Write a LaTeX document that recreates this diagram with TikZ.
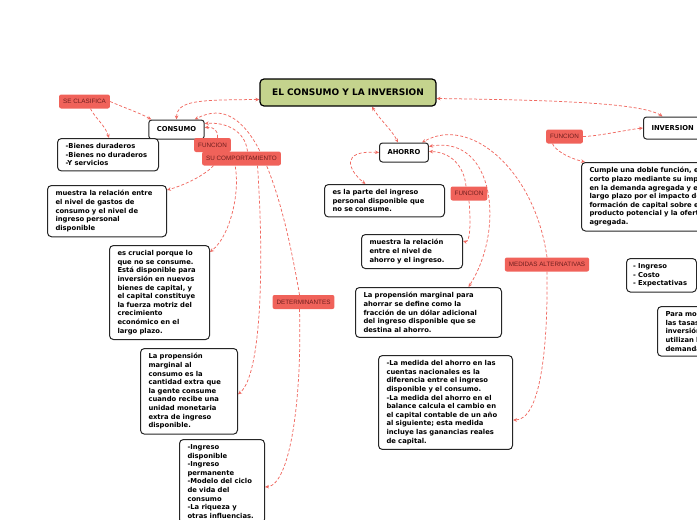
\documentclass[tikz,border=0pt]{standalone}
\usepackage{fontspec}
\setmainfont{DejaVu Sans}
\newfontfamily\tagfont{Liberation Sans}
\usetikzlibrary{backgrounds,arrows.meta}

\definecolor{titlegreen}{HTML}{C4D38D}
\definecolor{tagred}{HTML}{F0625A}
\definecolor{tagtext}{HTML}{6E1E1E}
\definecolor{linkred}{HTML}{F06A62}

\tikzset{
  topic/.style={draw=black, line width=1.2pt, rounded corners=4pt, fill=titlegreen,
    minimum width=176pt, minimum height=27pt, font=\bfseries\fontsize{9}{11}\selectfont},
  concept/.style={draw=black!85, line width=1pt, rounded corners=3pt, fill=white,
    minimum height=19pt, inner xsep=8pt, font=\bfseries\fontsize{6.8}{8.6}\selectfont},
  box/.style={draw=black!85, line width=1pt, rounded corners=4pt, fill=white, anchor=north west,
    align=left, inner xsep=8pt, inner ysep=5pt, font=\bfseries\fontsize{6.8}{8.6}\selectfont},
  tag/.style={fill=tagred, rounded corners=2pt, text=tagtext, minimum height=14pt,
    inner xsep=4pt, inner ysep=2pt, font=\tagfont\fontsize{6.3}{7}\selectfont},
  link/.style={draw=linkred, line width=0.75pt, dash pattern=on 3pt off 2pt},
}

\begin{document}
\begin{tikzpicture}[x=1pt, y=-1pt, >={Stealth[length=4pt,width=3.6pt]}]
    \useasboundingbox (0,0) rectangle (697,520);

    % main topics
    \node[topic] (titulo) at (348,92.5) {EL CONSUMO Y LA INVERSION};
    \node[concept] (consumo) at (176.5,129.5) {CONSUMO};
    \node[concept] (ahorro) at (404,152.5) {AHORRO};
    \node[concept, anchor=west, minimum height=22pt] (inversion) at (643,128) {INVERSION};

    % labels
    \node[tag] (clasifica) at (84.5,101.5) {SE CLASIFICA};
    \node[tag] (funcion1) at (212.5,145) {FUNCION};
    \node[tag] (comport) at (241.5,158.5) {SU COMPORTAMIENTO};
    \node[tag] (determ) at (303.5,302) {DETERMINANTES};
    \node[tag] (funcion2) at (469,193.5) {FUNCION};
    \node[tag] (medidas) at (547,264.5) {MEDIDAS ALTERNATIVAS};
    \node[tag] (funcion3) at (564.5,136.5) {FUNCION};

    % consumo
    \node[box, text width=85pt] (bienes) at (57,138) {-Bienes duraderos\\-Bienes no duraderos\\-Y servicios};
    \node[box, text width=103pt] (muestra) at (47,185) {muestra la relación entre\\el nivel de gastos de\\consumo y el nivel de\\ingreso personal\\disponible};
    \node[box, text width=84pt] (crucial) at (109,245) {es crucial porque lo\\que no se consume.\\Está disponible para\\inversión en nuevos\\bienes de capital, y\\el capital constituye\\la fuerza motriz del\\crecimiento\\económico en el\\largo plazo.};
    \node[box, text width=81pt] (propcons) at (140,348) {La propensión\\marginal al\\consumo es la\\cantidad extra que\\la gente consume\\cuando recibe una\\unidad monetaria\\extra de ingreso\\disponible.};
    \node[box, text width=69pt] (ingreso) at (179,439) {-Ingreso\\disponible\\-Ingreso\\permanente\\-Modelo del ciclo\\de vida del\\consumo\\-La riqueza y\\otras influencias.};

    % ahorro
    \node[box, text width=104pt] (parte) at (324,184) {es la parte del ingreso\\personal disponible que\\no se consume.};
    \node[box, text width=85pt] (muestraah) at (361,234) {muestra la relación\\entre el nivel de\\ahorro y el ingreso.};
    \node[box, text width=130pt] (propah) at (355,287) {La propensión marginal para\\ahorrar se define como la\\fracción de un dólar adicional\\del ingreso disponible que se\\destina al ahorro.};
    \node[box, text width=118pt] (medida) at (378,355) {-La medida del ahorro en las\\cuentas nacionales es la\\diferencia entre el ingreso\\disponible y el consumo.\\-La medida del ahorro en el\\balance calcula el cambio en\\el capital contable de un año\\al siguiente; esta medida\\incluye las ganancias reales\\de capital.};

    % inversion
    \node[box, text width=170pt] (cumple) at (581,162) {Cumple una doble función, en el\\corto plazo mediante su impacto\\en la demanda agregada y en el\\largo plazo por el impacto de la\\formación de capital sobre el\\producto potencial y la oferta\\agregada.};
    \node[box, text width=57pt, inner xsep=6.5pt] (factores) at (626,258) {- Ingreso\\- Costo\\- Expectativas};
    \node[box, text width=80pt] (modelar) at (657,306) {Para modelar\\las tasas de\\inversión se\\utilizan la\\demanda};

    \begin{scope}[on background layer]
        \draw[link, <->] ([yshift=-7pt]titulo.west) .. controls (200,100) and (177,100) .. (consumo.north);
        \draw[link, <->] ([xshift=24pt]titulo.south) .. controls (380,120) and (392,130) .. ([xshift=-6pt]ahorro.north);
        \draw[link, <->] ([yshift=-6pt]titulo.east) .. controls (540,100) and (640,102) .. ([xshift=-10pt]inversion.north);

        \draw[link, ->] (clasifica.east) .. controls (125,108) and (140,113) .. ([xshift=3pt]consumo.north west);
        \draw[link, ->] ([xshift=6pt]clasifica.south) .. controls (95,118) and (105,125) .. ([xshift=1pt]bienes.north);
        \draw[link, ->] ([xshift=5pt]funcion1.north) .. controls (218,130) and (214,127) .. ([yshift=2pt]consumo.east);
        \draw[link, ->] (funcion1.south east) .. controls (244,180) and (232,235) .. ([yshift=-7pt]crucial.north east);
        \draw[link, ->] ([xshift=6pt]comport.north) .. controls (245,130) and (225,122) .. ([yshift=6pt]consumo.east);
        \draw[link, ->] ([xshift=-28pt]comport.south) .. controls (205,175) and (185,185) .. ([yshift=-5pt]muestra.north east);
        \draw[link, ->] ([xshift=16pt]comport.south) .. controls (264,260) and (262,375) .. ([yshift=-3pt]propcons.east);
        \draw[link, ->] ([xshift=-4pt]determ.north) .. controls (280,180) and (250,90) .. ([xshift=-10pt]consumo.north east);
        \draw[link, ->] ([xshift=-4pt]determ.south) .. controls (302,400) and (290,485) .. ([yshift=-48pt]ingreso.north east);

        \draw[link, <->] (ahorro.west) .. controls (340,150) and (348,170) .. ([xshift=-19pt]parte.north);
        \draw[link, ->] ([xshift=-3pt]funcion2.north) .. controls (464,165) and (450,152) .. ([yshift=1pt]ahorro.east);
        \draw[link, ->] (funcion2.south) .. controls (471,225) and (470,243) .. ([yshift=-7pt]muestraah.north east);
        \draw[link, <->] ([yshift=6pt]ahorro.east) .. controls (495,135) and (505,230) .. ([xshift=40pt]propah.north);
        \draw[link, ->] (medidas.north) .. controls (535,170) and (470,115) .. ([xshift=18pt]ahorro.north);
        \draw[link, ->] (medidas.south) .. controls (548,350) and (540,420) .. ([yshift=-65pt]medida.north east);

        \draw[link, ->] (funcion3.east) .. controls (600,136) and (625,130) .. (inversion.west);
        \draw[link, ->] ([xshift=-12pt]funcion3.south) .. controls (555,150) and (568,158) .. ([xshift=4pt]cumple.north west);
    \end{scope}
\end{tikzpicture}
\end{document}
